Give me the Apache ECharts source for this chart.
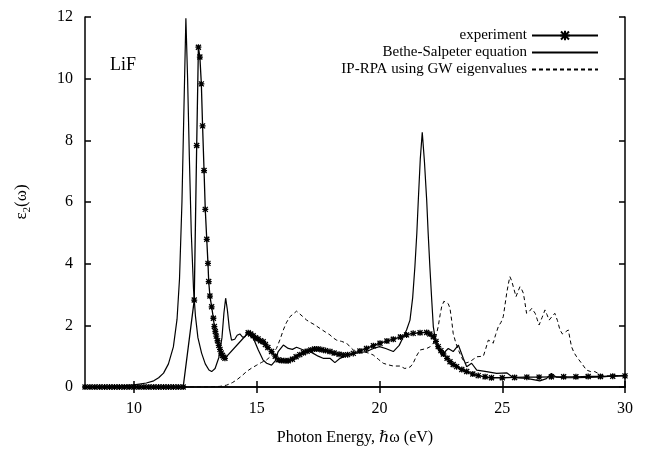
<!DOCTYPE html>
<html lang="en">
<head>
    <meta charset="UTF-8">
    <title>LiF eps2</title>
    <script type="text/javascript" src="https://cdn.jsdelivr.net/npm/echarts@6/dist/echarts.min.js"></script>
    <style>
        html, body {margin: 0; padding: 0; background: #fff;}
        #chart {width: 652px; height: 459px;}
    </style>
</head>
<body>
<div id="chart"></div>
<script>
    // tick labels
    var xTicks = [10, 15, 20, 25, 30];
    var yTicks = [0, 2, 4, 6, 8, 10, 12];

    // experiment (line with markers)
    var expX = [8.0, 8.2, 8.4, 8.6, 8.8, 9.0, 9.2, 9.4, 9.6, 9.8, 10.0, 10.2, 10.4, 10.6, 10.8, 11.0, 11.2, 11.4, 11.6, 11.8, 12.0,
        12.45, 12.55, 12.62, 12.68, 12.74, 12.79, 12.85, 12.9, 12.96, 13.01, 13.04, 13.09, 13.16, 13.23, 13.27,
        13.31, 13.35, 13.4, 13.45, 13.5, 13.55, 13.6, 13.65, 13.7,
        14.65, 14.75, 14.85, 14.95, 15.05, 15.15, 15.26, 15.35, 15.45, 15.6, 15.75, 15.87, 16.0, 16.15, 16.28,
        16.45, 16.6, 16.75, 16.9, 17.05, 17.2, 17.35, 17.5, 17.65, 17.8, 17.98, 18.15, 18.35, 18.52, 18.7, 18.93,
        19.2, 19.47, 19.75, 20.02, 20.3, 20.56, 20.85, 21.1, 21.37, 21.65, 21.92, 22.05, 22.19, 22.3, 22.39,
        22.5, 22.6, 22.75, 22.87, 23.0, 23.14, 23.35, 23.55, 23.8, 24.02, 24.3, 24.56, 25.0, 25.5, 26.0, 26.5,
        27.0, 27.5, 28.0, 28.5, 29.0, 29.5, 30.0];
    var expY = [0, 0, 0, 0, 0, 0, 0, 0, 0, 0, 0, 0, 0, 0, 0, 0, 0, 0, 0, 0, 0,
        2.82, 7.83, 11.02, 10.7, 9.83, 8.47, 7.02, 5.76, 4.79, 4.01, 3.42, 2.95, 2.6, 2.23, 1.96,
        1.8, 1.65, 1.5, 1.35, 1.22, 1.1, 1.02, 0.97, 0.93,
        1.76, 1.72, 1.66, 1.6, 1.56, 1.5, 1.47, 1.38, 1.28, 1.15, 1.0, 0.88, 0.86, 0.85, 0.85,
        0.9, 0.98, 1.05, 1.11, 1.16, 1.2, 1.23, 1.23, 1.21, 1.18, 1.15, 1.1, 1.06, 1.04, 1.05, 1.09,
        1.17, 1.25, 1.34, 1.42, 1.49, 1.55, 1.62, 1.69, 1.74, 1.76, 1.77, 1.72, 1.63, 1.48, 1.31,
        1.18, 1.07, 0.93, 0.82, 0.73, 0.66, 0.57, 0.5, 0.42, 0.37, 0.33, 0.3, 0.3, 0.31, 0.32, 0.32,
        0.33, 0.33, 0.33, 0.34, 0.34, 0.35, 0.36];

    // Bethe-Salpeter equation (solid)
    var bseX = [8, 9, 9.5, 10, 10.5, 10.8, 11.0, 11.2, 11.4, 11.6, 11.75, 11.85, 11.95, 12.03, 12.11, 12.18, 12.25,
        12.33, 12.42, 12.5, 12.6, 12.75, 12.9, 13.05, 13.16, 13.3, 13.45, 13.58, 13.66, 13.73, 13.8, 13.88,
        13.97, 14.1, 14.2, 14.31, 14.42, 14.52, 14.62, 14.72, 14.85, 15.06, 15.25, 15.4, 15.6, 15.75, 15.87,
        16.08, 16.28, 16.45, 16.62, 16.9, 17.1, 17.3, 17.5, 17.7, 17.98, 18.18, 18.39, 18.6, 18.8, 19.13,
        19.47, 19.75, 20.0, 20.25, 20.56, 20.8, 20.97, 21.1, 21.24, 21.35, 21.44, 21.52, 21.58, 21.66, 21.74,
        21.83, 21.92, 21.98, 22.05, 22.12, 22.19, 22.32, 22.53, 22.8, 23.0, 23.21, 23.41, 23.55, 23.75, 23.96,
        24.36, 24.77, 25.18, 25.45, 26.0, 26.53, 26.8, 27.0, 27.2, 27.6, 28.0, 28.5, 29.0, 29.5, 30];
    var bseY = [0, 0.02, 0.04, 0.07, 0.13, 0.2, 0.3, 0.45, 0.75, 1.3, 2.2, 3.5, 6.0, 9.0, 11.96, 10.0, 7.5,
        5.0, 3.2, 2.3, 1.6, 1.1, 0.75, 0.55, 0.5, 0.6, 0.95, 1.6, 2.4, 2.88, 2.5, 1.9,
        1.52, 1.55, 1.68, 1.72, 1.62, 1.63, 1.75, 1.79, 1.6, 1.2, 0.88, 0.77, 0.71, 0.85, 1.15,
        1.36, 1.25, 1.22, 1.29, 1.2, 1.18, 1.09, 1.0, 0.93, 0.93, 0.79, 0.93, 1.0, 1.04, 1.11,
        1.15, 1.25, 1.31, 1.25, 1.15, 1.35, 1.63, 1.85, 2.17, 2.9, 3.9, 5.0, 6.07, 7.4, 8.26,
        7.3, 6.07, 5.0, 3.9, 2.9, 1.96, 1.31, 1.04, 1.25, 1.15, 1.36, 0.93, 0.66, 0.77, 0.55,
        0.5, 0.44, 0.46, 0.3, 0.28, 0.2, 0.27, 0.44, 0.32, 0.3, 0.3, 0.31, 0.33, 0.35, 0.38];

    // IP-RPA using GW eigenvalues (dashed)
    var rpaX = [8, 13.0, 13.5, 13.77, 14.0, 14.18, 14.4, 14.58, 14.8, 15.0, 15.2, 15.4, 15.6, 15.8, 15.95, 16.08,
        16.2, 16.35, 16.5, 16.62, 16.69, 16.85, 17.03, 17.17, 17.35, 17.57, 17.8, 17.98, 18.1, 18.25, 18.45,
        18.66, 18.8, 18.93, 19.1, 19.34, 19.55, 19.74, 19.95, 20.15, 20.35, 20.56, 20.83, 21.03, 21.1, 21.25,
        21.37, 21.5, 21.65, 21.92, 22.05, 22.19, 22.3, 22.39, 22.47, 22.53, 22.62, 22.7, 22.8, 22.87, 22.94,
        23.0, 23.1, 23.21, 23.35, 23.48, 23.68, 23.82, 23.96, 24.1, 24.23, 24.33, 24.43, 24.53, 24.63, 24.73,
        24.84, 24.95, 25.04, 25.1, 25.18, 25.25, 25.31, 25.38, 25.45, 25.56, 25.64, 25.72, 25.8, 25.86, 25.93,
        25.99, 26.1, 26.2, 26.27, 26.34, 26.42, 26.5, 26.62, 26.74, 26.82, 26.91, 27.02, 27.14, 27.25, 27.35,
        27.45, 27.52, 27.6, 27.69, 27.75, 27.82, 27.92, 28.03, 28.23, 28.43, 28.6, 28.77, 28.95, 29.11, 29.5, 30];
    var rpaY = [0, 0, 0.02, 0.06, 0.14, 0.23, 0.37, 0.5, 0.62, 0.71, 0.8, 0.88, 1.02, 1.25, 1.55, 1.85,
        2.08, 2.28, 2.38, 2.46, 2.44, 2.3, 2.17, 2.1, 2.02, 1.9, 1.78, 1.69, 1.6, 1.52, 1.48,
        1.42, 1.3, 1.2, 1.17, 1.15, 1.1, 1.04, 0.9, 0.77, 0.72, 0.68, 0.68, 0.6, 0.55, 0.65,
        0.77, 1.0, 1.2, 1.25, 1.3, 1.42, 1.65, 1.96, 2.35, 2.6, 2.78, 2.82, 2.7, 2.55, 2.15,
        1.74, 1.45, 1.2, 0.95, 0.77, 0.82, 0.9, 0.98, 0.99, 1.0, 1.25, 1.52, 1.48, 1.42, 1.7,
        1.96, 2.1, 2.28, 2.6, 3.04, 3.35, 3.58, 3.45, 3.25, 2.93, 3.1, 3.25, 3.15, 3.04, 2.7,
        2.39, 2.45, 2.55, 2.5, 2.39, 2.2, 2.01, 2.25, 2.5, 2.35, 2.17, 2.28, 2.39, 2.15, 1.85,
        1.72, 1.69, 1.8, 1.85, 1.6, 1.31, 1.12, 0.98, 0.77, 0.55, 0.5, 0.5, 0.42, 0.36, 0.36, 0.38];

    function pairs(xs, ys) {
        var out = [];
        for (var i = 0; i < xs.length; i++) {
            out.push([xs[i], ys[i]]);
        }
        return out;
    }

    var serif = '"Liberation Serif", "DejaVu Serif", serif';
    var star = 'path://M0,0L10,10M10,0L0,10M5,-1L5,11M-1,5L11,5';

    var chart = echarts.init(document.getElementById('chart'));

    var option = {
        backgroundColor: '#fff',
        animation: false,
        grid: {left: 85, right: 27, top: 17, bottom: 72},
        legend: {
            orient: 'vertical',
            right: 48,
            top: 23,
            align: 'right',
            itemWidth: 66,
            itemHeight: 12,
            itemGap: 2,
            textStyle: {fontFamily: serif, fontSize: 15, color: '#000'},
            data: [
                {name: 'experiment'},
                {name: 'Bethe-Salpeter equation', itemStyle: {opacity: 0}},
                {name: 'IP-RPA using GW eigenvalues', itemStyle: {opacity: 0}}
            ]
        },
        graphic: [{
            type: 'text',
            left: 110,
            top: 56,
            style: {text: 'LiF', font: '18px ' + serif, fill: '#000'}
        }],
        xAxis: [{
            type: 'value',
            min: 8,
            max: 30,
            name: 'Photon Energy, ℏω (eV)',
            nameLocation: 'middle',
            nameGap: 43,
            nameTextStyle: {fontFamily: serif, fontSize: 16, color: '#000'},
            axisLine: {lineStyle: {color: '#000', width: 1.5}},
            axisTick: {inside: true, length: 6, customValues: xTicks, lineStyle: {color: '#000', width: 1.5}},
            axisLabel: {customValues: xTicks, margin: 14, fontFamily: serif, fontSize: 16, color: '#000'},
            splitLine: {show: false}
        }, {
            type: 'value',
            position: 'top',
            min: 8,
            max: 30,
            axisLine: {lineStyle: {color: '#000', width: 1.5}},
            axisTick: {inside: true, length: 6, customValues: xTicks, lineStyle: {color: '#000', width: 1.5}},
            axisLabel: {show: false},
            splitLine: {show: false}
        }],
        yAxis: [{
            type: 'value',
            min: 0,
            max: 12,
            interval: 2,
            name: '{e|ε}{s|2}{e|(ω)}',
            nameLocation: 'middle',
            nameRotate: 90,
            nameGap: 52,
            nameTextStyle: {
                color: '#000',
                rich: {
                    e: {fontFamily: serif, fontSize: 17, color: '#000', lineHeight: 22, verticalAlign: 'middle'},
                    s: {fontFamily: serif, fontSize: 11, color: '#000', lineHeight: 22, verticalAlign: 'bottom'}
                }
            },
            axisLine: {lineStyle: {color: '#000', width: 1.5}},
            axisTick: {inside: true, length: 6, lineStyle: {color: '#000', width: 1.5}},
            axisLabel: {margin: 12, fontFamily: serif, fontSize: 16, color: '#000',
                customValues: yTicks},
            splitLine: {show: false}
        }, {
            type: 'value',
            position: 'right',
            min: 0,
            max: 12,
            interval: 2,
            axisLine: {lineStyle: {color: '#000', width: 1.5}},
            axisTick: {inside: true, length: 6, lineStyle: {color: '#000', width: 1.5}},
            axisLabel: {show: false},
            splitLine: {show: false}
        }],
        series: [{
            name: 'experiment',
            type: 'line',
            data: pairs(expX, expY),
            showAllSymbol: true,
            symbol: star,
            symbolSize: 6,
            itemStyle: {color: '#000', borderColor: '#000', borderWidth: 1.3},
            lineStyle: {color: '#000', width: 1.3},
            z: 3
        }, {
            name: 'Bethe-Salpeter equation',
            type: 'line',
            data: pairs(bseX, bseY),
            showSymbol: false,
            symbol: 'none',
            itemStyle: {color: '#000'},
            lineStyle: {color: '#000', width: 1.2}
        }, {
            name: 'IP-RPA using GW eigenvalues',
            type: 'line',
            data: pairs(rpaX, rpaY),
            showSymbol: false,
            symbol: 'none',
            itemStyle: {color: '#000'},
            lineStyle: {color: '#000', width: 1, type: [4, 3]}
        }]
    };

    chart.setOption(option);
</script>
</body>
</html>
